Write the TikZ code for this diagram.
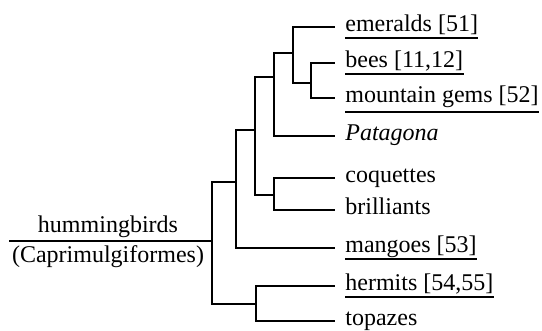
\documentclass[tikz,border=0pt]{standalone}
\usepackage{fontspec}
\setmainfont{Liberation Serif}
\begin{document}
\begin{tikzpicture}[x=0.5pt,y=-0.5pt,
  branch/.style={line width=0.9pt},
  uline/.style={line width=0.9pt},
  leaflabel/.style={anchor=mid west,inner sep=0pt,font=\fontsize{12pt}{14pt}\selectfont},
  rootlabel/.style={anchor=base,inner sep=0pt,font=\fontsize{12pt}{14pt}\selectfont}]
\useasboundingbox (0,0) rectangle (542,331);
% internal nodes
\coordinate (r0) at (9,241);
\coordinate (r) at (212,241);
\coordinate (a) at (236,182);
\coordinate (h) at (256,304);
\coordinate (b) at (255,130);
\coordinate (c) at (274,77);
\coordinate (d) at (274,195);
\coordinate (e) at (293,53);
\coordinate (f) at (311,83);
% leaf ends
\coordinate (lEme) at (335,27);
\coordinate (lBee) at (335,63);
\coordinate (lMou) at (335,98);
\coordinate (lPat) at (335,136);
\coordinate (lCoq) at (335,178);
\coordinate (lBri) at (335,210);
\coordinate (lMan) at (335,248);
\coordinate (lHer) at (335,286);
\coordinate (lTop) at (335,321);
% labels
\node[leaflabel] (tEme) at (345,27) {emeralds [51]};
\node[leaflabel] (tBee) at (345,63) {bees [11,12]};
\node[leaflabel] (tMou) at (345,98) {mountain gems [52]};
\node[leaflabel] (tPat) at (345,136) {\itshape Patagona};
\node[leaflabel] (tCoq) at (345,178) {coquettes};
\node[leaflabel] (tBri) at (345,210) {brilliants};
\node[leaflabel] (tMan) at (345,248) {mangoes [53]};
\node[leaflabel] (tHer) at (345,286) {hermits [54,55]};
\node[leaflabel] (tTop) at (345,321) {topazes};
\node[rootlabel] (tHum) at (108,233) {hummingbirds};
\node[rootlabel] (tCap) at (108,263) {(Caprimulgiformes)};
% underlines
\draw[uline] (tEme.west |- 0,38) -- (tEme.east |- 0,38);
\draw[uline] (tBee.west |- 0,74) -- (tBee.east |- 0,74);
\draw[uline] (tMou.west |- 0,112) -- (tMou.east |- 0,112);
\draw[uline] (tMan.west |- 0,259) -- (tMan.east |- 0,259);
\draw[uline] (tHer.west |- 0,297) -- (tHer.east |- 0,297);
% branches
\draw[branch] (r0) -- (r);
\draw[branch] (r) |- (a);
\draw[branch] (r) |- (h);
\draw[branch] (h) |- (lHer);
\draw[branch] (h) |- (lTop);
\draw[branch] (a) |- (b);
\draw[branch] (a) |- (lMan);
\draw[branch] (b) |- (c);
\draw[branch] (b) |- (d);
\draw[branch] (d) |- (lCoq);
\draw[branch] (d) |- (lBri);
\draw[branch] (c) |- (e);
\draw[branch] (c) |- (lPat);
\draw[branch] (e) |- (lEme);
\draw[branch] (e) |- (f);
\draw[branch] (f) |- (lBee);
\draw[branch] (f) |- (lMou);
\end{tikzpicture}
\end{document}
